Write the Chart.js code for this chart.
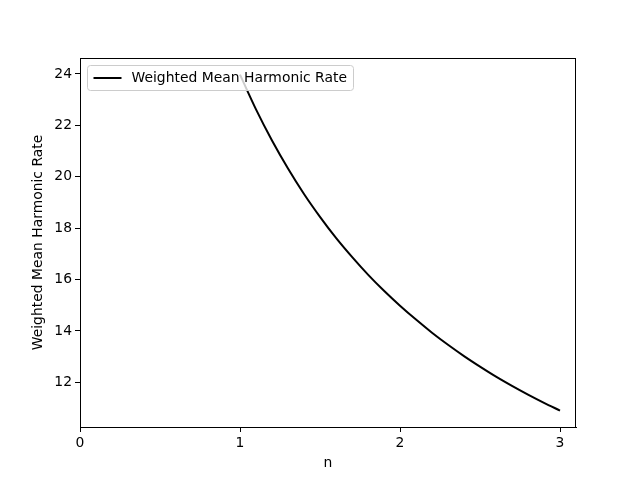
<!DOCTYPE html>
<html>
<head>
<meta charset="utf-8">
<script src="https://cdn.jsdelivr.net/npm/chart.js@4"></script>
<style>
  html, body { margin: 0; padding: 0; background: #fff; }
  #wrap { width: 640px; height: 480px; position: relative; }
</style>
</head>
<body>
<div id="wrap"><canvas id="c" width="640" height="480"></canvas></div>
<script>
const nValues = [1.0, 1.1, 1.2, 1.3, 1.4, 1.5, 1.6, 1.7, 1.8, 1.9, 2.0, 2.1, 2.2, 2.3, 2.4, 2.5, 2.6, 2.7, 2.8, 2.9, 3.0];
const rateValues = [23.97, 22.62, 21.41, 20.32, 19.33, 18.44, 17.62, 16.88, 16.19, 15.56, 14.98, 14.44, 13.93, 13.46, 13.02, 12.61, 12.22, 11.86, 11.52, 11.20, 10.90];
const xTicks = [0, 1, 2, 3];
const yTicks = [12, 14, 16, 18, 20, 22, 24];
const seriesLabel = 'Weighted Mean Harmonic Rate';
const xTitle = 'n';
const yTitle = 'Weighted Mean Harmonic Rate';

const FONT = 'DejaVu Sans';
const FS = 13.9;

const points = nValues.map((n, i) => ({ x: n, y: rateValues[i] }));

const framePlugin = {
  id: 'frame',
  afterDatasetsDraw(chart) {
    const { ctx, chartArea: a } = chart;
    ctx.save();
    ctx.strokeStyle = '#000';
    ctx.lineWidth = 1;
    ctx.strokeRect(Math.round(a.left) + 0.5, Math.round(a.top) + 0.5,
                   Math.round(a.right - a.left) - 1, Math.round(a.bottom - a.top));
    // legend
    const lx = a.left + 7.5, ly = a.top + 7.5, lw = 266, lh = 25, r = 3;
    ctx.beginPath();
    ctx.moveTo(lx + r, ly);
    ctx.lineTo(lx + lw - r, ly);
    ctx.arcTo(lx + lw, ly, lx + lw, ly + r, r);
    ctx.lineTo(lx + lw, ly + lh - r);
    ctx.arcTo(lx + lw, ly + lh, lx + lw - r, ly + lh, r);
    ctx.lineTo(lx + r, ly + lh);
    ctx.arcTo(lx, ly + lh, lx, ly + lh - r, r);
    ctx.lineTo(lx, ly + r);
    ctx.arcTo(lx, ly, lx + r, ly, r);
    ctx.closePath();
    ctx.fillStyle = 'rgba(255,255,255,0.8)';
    ctx.fill();
    ctx.strokeStyle = '#cccccc';
    ctx.lineWidth = 1;
    ctx.stroke();
    const cy = ly + lh / 2;
    ctx.beginPath();
    ctx.moveTo(lx + 6, cy);
    ctx.lineTo(lx + 34, cy);
    ctx.strokeStyle = '#000';
    ctx.lineWidth = 2;
    ctx.stroke();
    ctx.fillStyle = '#000';
    ctx.font = FS + 'px "' + FONT + '"';
    ctx.textBaseline = 'middle';
    ctx.textAlign = 'left';
    ctx.fillText(seriesLabel, lx + 44, cy + 0.5);
    ctx.restore();
  }
};

new Chart(document.getElementById('c'), {
  type: 'line',
  data: {
    datasets: [{
      label: seriesLabel,
      data: points,
      borderColor: '#000',
      borderWidth: 2,
      pointRadius: 0,
      fill: false,
      tension: 0.4,
      cubicInterpolationMode: 'monotone'
    }]
  },
  options: {
    responsive: false,
    animation: false,
    layout: { padding: { left: 0, right: 64, top: 58, bottom: 0 } },
    plugins: { legend: { display: false }, tooltip: { enabled: false } },
    scales: {
      x: {
        type: 'linear',
        min: 0,
        max: 3.1,
        afterBuildTicks: s => { s.ticks = xTicks.map(v => ({ value: v })); },
        afterFit: s => { s.height = 53; },
        grid: { drawOnChartArea: false, drawTicks: true, tickLength: 5, tickColor: '#000', lineWidth: 1 },
        border: { display: true, color: '#000', width: 1 },
        ticks: { color: '#000', font: { family: FONT, size: FS }, padding: 3, maxRotation: 0 },
        title: { display: true, text: xTitle, color: '#000', font: { family: FONT, size: FS }, padding: { top: 0, bottom: 8 } }
      },
      y: {
        type: 'linear',
        min: 10.26,
        max: 24.62,
        afterBuildTicks: s => { s.ticks = yTicks.map(v => ({ value: v })); },
        afterFit: s => { s.width = 80; },
        grid: { drawOnChartArea: false, drawTicks: true, tickLength: 5, tickColor: '#000', lineWidth: 1 },
        border: { display: true, color: '#000', width: 1 },
        ticks: { color: '#000', font: { family: FONT, size: FS }, padding: 3 },
        title: { display: true, text: yTitle, color: '#000', font: { family: FONT, size: FS }, padding: { top: 30, bottom: 0 } }
      }
    }
  },
  plugins: [framePlugin]
});
</script>
</body>
</html>
